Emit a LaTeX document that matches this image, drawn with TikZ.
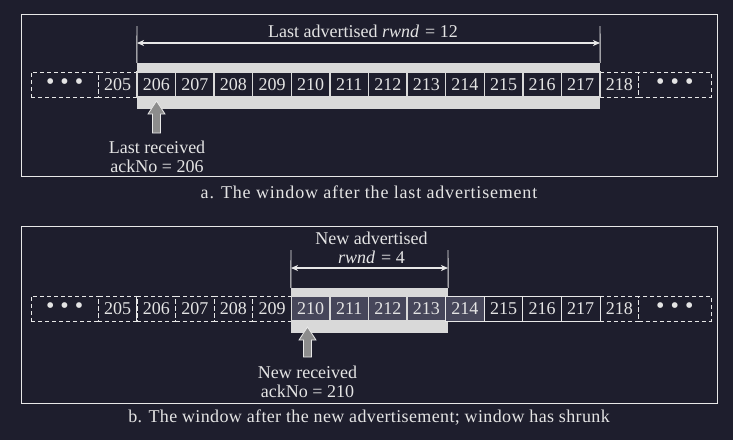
\documentclass[tikz,border=0pt]{standalone}
\usepackage{fontspec}
\setmainfont{Liberation Serif}
\newfontfamily\capfont{Liberation Serif}[LetterSpace=4.5]
\newfontfamily\capfontb{Liberation Serif}[LetterSpace=2]
\usetikzlibrary{arrows.meta,positioning}
\definecolor{bgDark}{HTML}{1E1E2D}
\definecolor{txtLight}{HTML}{E4E4E4}
\definecolor{lineLight}{HTML}{E8E8E8}
\definecolor{bandFill}{HTML}{D9D9D9}
\definecolor{winFill}{HTML}{46465A}
\definecolor{arrFill}{HTML}{8C8C8C}
\tikzset{
  font=\fontsize{18}{19}\selectfont,
  frame/.style ={draw=lineLight, line width=0.9pt, inner sep=0pt},
  cell/.style  ={minimum width=38.58pt, minimum height=25pt, inner sep=0pt},
  dcell/.style ={cell, draw=lineLight, dashed, dash pattern=on 4pt off 3pt, line width=0.8pt},
  wcell/.style ={cell, draw=bandFill, fill=bgDark, line width=1.4pt},
  gcell/.style ={cell, draw=bandFill, fill=winFill, line width=1.4pt},
  pcell/.style ={cell, draw=lineLight, fill=bgDark, line width=0.9pt},
  band/.style  ={fill=bandFill, inner sep=0pt},
  tick/.style  ={draw=lineLight, line width=0.9pt},
  dim/.style   ={{Stealth[length=7pt, width=6pt, inset=2pt]}-{Stealth[length=7pt, width=6pt, inset=2pt]}, draw=lineLight, line width=1.1pt},
  uparr/.style ={draw=lineLight, fill=arrFill, line width=0.8pt, line join=miter},
}
\newcommand{\threedots}{\raisebox{-2.5pt}{\fontsize{24}{24}\selectfont\textbullet\hspace{6pt}\textbullet\hspace{6pt}\textbullet}}

\begin{document}
\begin{tikzpicture}[x=1pt, y=-1pt, text=txtLight]
  \fill[bgDark] (0,0) rectangle (733,440);
  \useasboundingbox (0,0) rectangle (733,440);

  % a. window after the last advertisement
  \node[frame, minimum width=696pt, minimum height=162pt] (pana) at (369,95) {};
  \node[dcell, minimum width=67.4pt] (adl) at (64.7,84.5) {\threedots};
  \node[dcell, minimum width=72.4pt] (adr) at (674.8,84.5) {\threedots};
  \foreach \n in {205,218} \node[dcell] (a\n) at ({137+(\n-205.5)*38.58},84.5) {\n};
  \node[band, minimum width=463pt, minimum height=46pt] (wina) at (368.5,86) {};
  \foreach \n in {206,...,217} \node[wcell] (a\n) at ({137+(\n-205.5)*38.58},84.5) {\n};

  \coordinate (tla) at (137,26);
  \coordinate (tra) at (600,26);
  \coordinate (dla) at (137,43);
  \coordinate (dra) at (600,43);
  \draw[tick] (wina.north west) -- (tla);
  \draw[tick] (wina.north east) -- (tra);
  \draw[dim] (dla) -- (dra);
  \node (lbla) at (363,31) {Last advertised \textit{rwnd}\,\,= 12};

  \coordinate (tipa) at (156.5,101);
  \draw[uparr] (tipa) -- ++(8.5,13) -- ++(-4.5,0) -- ++(0,19) -- ++(-8,0) -- ++(0,-19) -- ++(-4.5,0) -- cycle;
  \node[align=center] (rcva) at (157,157) {Last received\\ackNo = 206};
  \node[font=\fontsize{18}{19}\capfont] (capa) at (369,192) {a. The window after the last advertisement};

  % b. window after the new advertisement
  \node[frame, minimum width=696pt, minimum height=177pt] (panb) at (369,314.5) {};
  \node[dcell, minimum width=67.4pt] (bdl) at (64.7,308.5) {\threedots};
  \node[dcell, minimum width=72.4pt] (bdr) at (674.8,308.5) {\threedots};
  \foreach \n in {205,...,209,218} \node[dcell] (b\n) at ({137+(\n-205.5)*38.58},308.5) {\n};
  \draw[tick] (b206.north west) -- (b206.south west);
  \node[band, minimum width=157pt, minimum height=45pt] (winb) at (369.5,310.5) {};
  \foreach \n in {210,...,213} \node[gcell] (b\n) at ({137+(\n-205.5)*38.58},308.5) {\n};
  \node[pcell, fill=winFill] (b214) at ({137+(214-205.5)*38.58},308.5) {214};
  \foreach \n in {215,216,217} \node[pcell] (b\n) at ({137+(\n-205.5)*38.58},308.5) {\n};

  \coordinate (tlb) at (291,250);
  \coordinate (trb) at (448,250);
  \coordinate (dlb) at (291,268);
  \coordinate (drb) at (448,268);
  \draw[tick] (winb.north west) -- (tlb);
  \draw[tick] (winb.north east) -- (trb);
  \draw[dim] (dlb) -- (drb);
  \node[align=center] (lblb) at (371.5,248) {New advertised\\\textit{rwnd}\,\,= 4};

  \coordinate (tipb) at (307.5,327);
  \draw[uparr] (tipb) -- ++(8.5,13) -- ++(-4.5,0) -- ++(0,17) -- ++(-8,0) -- ++(0,-17) -- ++(-4.5,0) -- cycle;
  \node[align=center] (rcvb) at (307.5,382) {New received\\ackNo = 210};
  \node[font=\fontsize{18}{19}\capfontb] (capb) at (369,418) {b. The window after the new advertisement; window has shrunk};
\end{tikzpicture}
\end{document}
